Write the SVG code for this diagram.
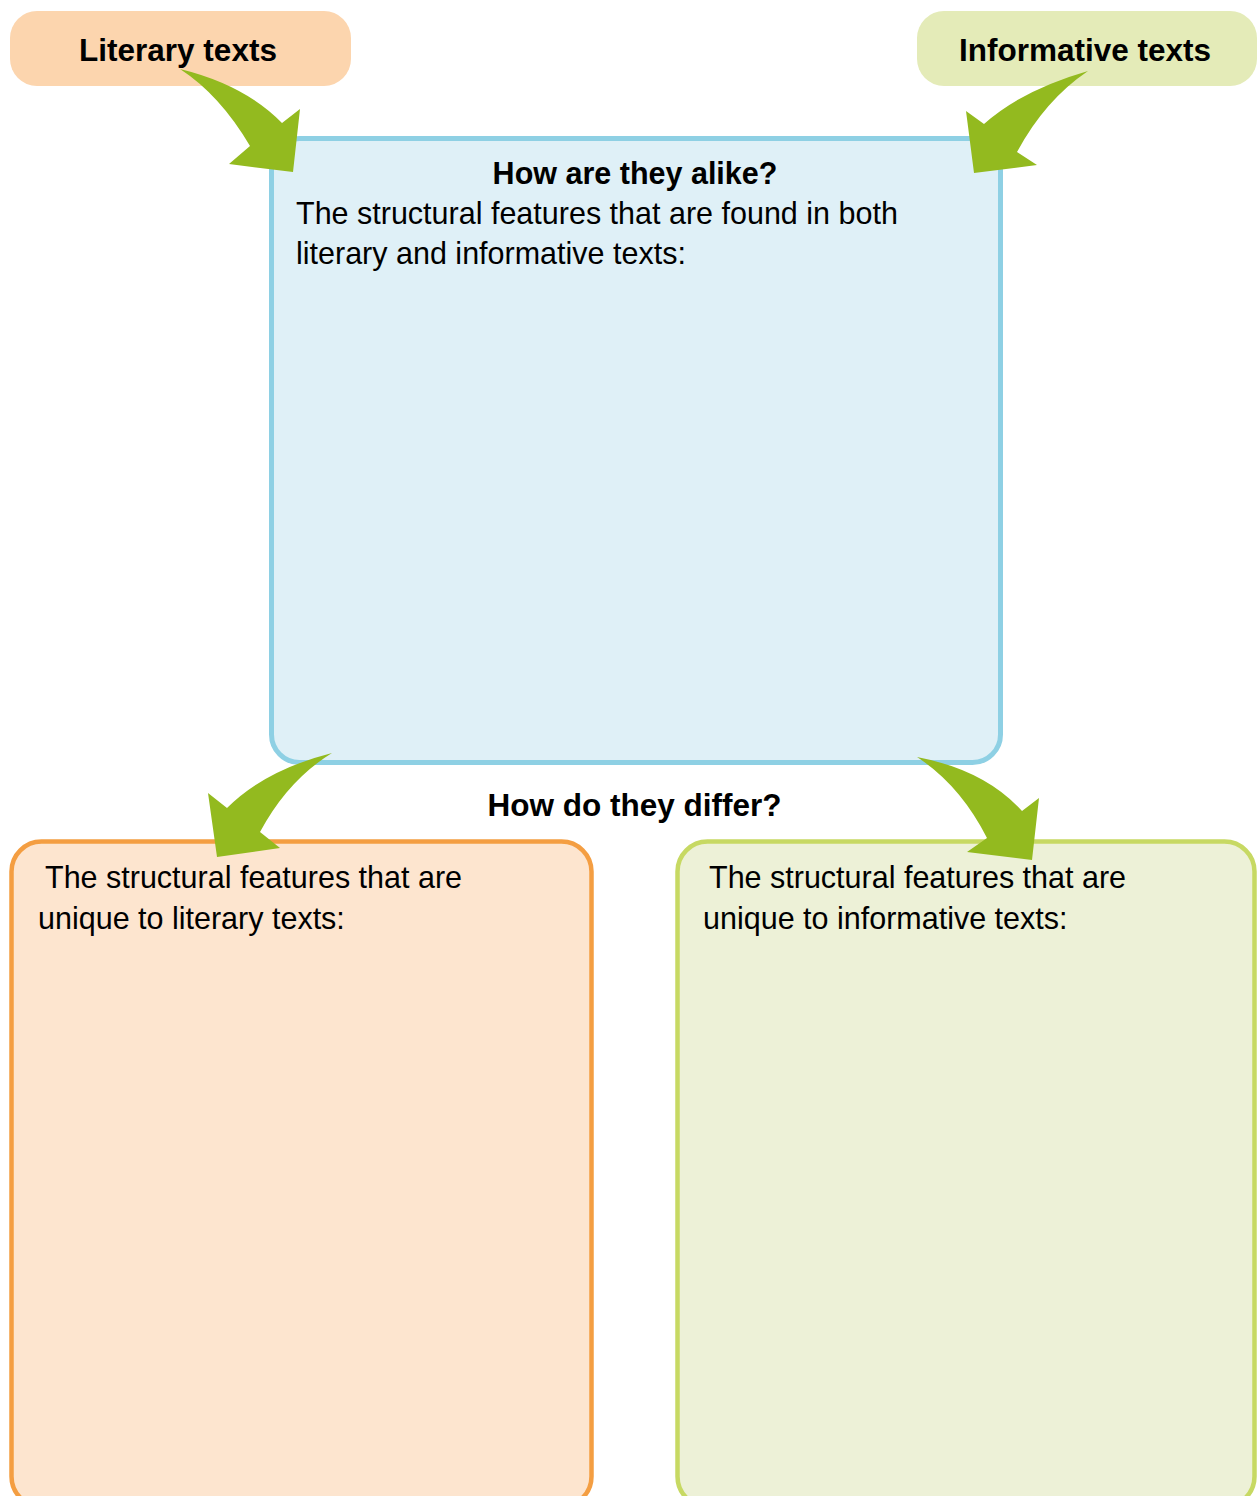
<svg xmlns="http://www.w3.org/2000/svg" width="1258" height="1496" viewBox="0 0 1258 1496">
<style>
.lbl{font-family:"Liberation Sans",Arial,sans-serif;font-weight:bold;font-size:31.5px;fill:#000;text-anchor:middle}
.hd{font-family:"Liberation Sans",Arial,sans-serif;font-weight:bold;font-size:30.5px;fill:#000;text-anchor:middle}
.tx{font-family:"Liberation Sans",Arial,sans-serif;font-size:30.5px;fill:#000}
.arrow{fill:#93ba1f;stroke:none}
</style>
<rect width="1258" height="1496" fill="#ffffff"/>
<g id="literary">
<rect x="10" y="11" width="341" height="75" rx="27" fill="#fcd5ae"/>
<text class="lbl" x="178" y="61">Literary texts</text>
</g>
<g id="informative">
<rect x="917" y="11" width="340" height="75" rx="27" fill="#e4ebb8"/>
<text class="lbl" x="1085" y="61">Informative texts</text>
</g>
<g id="alike">
<rect x="271.5" y="138.5" width="729" height="624" rx="28" fill="#dff0f7" stroke="#8ed0e4" stroke-width="5"/>
<text class="hd" x="635" y="184">How are they alike?</text>
<text class="tx" x="296" y="224">The structural features that are found in both</text>
<text class="tx" x="296" y="264">literary and informative texts:</text>
</g>
<g id="differ">
<text class="hd" x="634.5" y="816" style="font-size:31.5px">How do they differ?</text>
</g>
<g id="unique-literary">
<rect x="11.5" y="841.5" width="580" height="665" rx="30" fill="#fde5cf" stroke="#f49e42" stroke-width="4.5"/>
<text class="tx" x="45" y="888">The structural features that are</text>
<text class="tx" x="38" y="929">unique to literary texts:</text>
</g>
<g id="unique-informative">
<rect x="677.5" y="841.5" width="577" height="665" rx="30" fill="#edf1d7" stroke="#c7d963" stroke-width="4.5"/>
<text class="tx" x="709" y="888">The structural features that are</text>
<text class="tx" x="703" y="929">unique to informative texts:</text>
</g>
<g id="connectors">
<path class="arrow" d="M180,69 Q245,85 282,123 L300,109 L293,172 L229,164 L250,146 Q220,95 180,69 Z"/>
<path class="arrow" d="M1088,71 Q1022,90 984,124 L966,111 L974,173 L1037,165 L1017,152 Q1045,100 1088,71 Z"/>
<path class="arrow" d="M332,753 Q265,770 227,808 L208,793 L217,857 L280,848 L260,832 Q288,780 332,753 Z"/>
<path class="arrow" d="M917,757 Q985,770 1022,811 L1039,798 L1032,860 L967,852 L987,838 Q960,785 917,757 Z"/>
</g>
</svg>
